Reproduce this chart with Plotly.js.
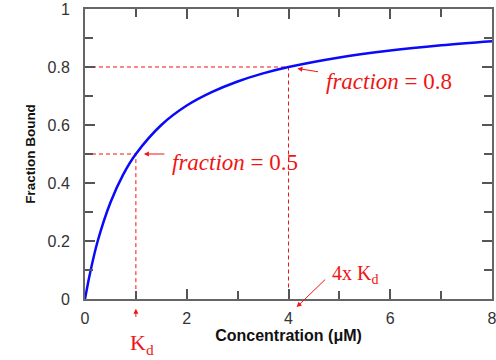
<!DOCTYPE html>
<html><head><meta charset="utf-8">
<script src="https://cdn.plot.ly/plotly-3.0.1.min.js"></script>
<style>html,body{margin:0;padding:0;background:#fff}#c{width:496px;height:360px}</style>
</head><body><div id="c"></div>
<script>
// Binding curve
const conc = [0, 0.1, 0.25, 0.5, 0.75, 1, 1.5, 2, 2.5, 3, 3.5, 4, 5, 6, 7, 8];
const fracBound = [0, 0.09, 0.2, 0.333, 0.429, 0.5, 0.6, 0.667, 0.714, 0.75, 0.778, 0.8, 0.833, 0.857, 0.875, 0.889];
// Reference points (Kd and 4x Kd)
const guideX = [1, 4];
const guideY = [0.5, 0.8];
const xTicks = [0, 2, 4, 6, 8];
const yTicks = [0, 0.2, 0.4, 0.6, 0.8, 1];

const red = 'rgb(240,20,20)';
const traces = [];
guideX.forEach((gx, i) => {
  traces.push({x: [0, gx, gx], y: [guideY[i], guideY[i], 0], mode: 'lines',
    line: {color: red, width: 1, dash: '4px,3px'}, hoverinfo: 'skip', showlegend: false});
});
traces.push({x: conc, y: fracBound, mode: 'lines', line: {color: 'rgb(10,10,250)', width: 2.5, shape: 'spline'}, showlegend: false});

const serif = {family: 'Liberation Serif, Times New Roman, serif', size: 23, color: red};
const axCommon = {
  showline: true, mirror: 'allticks', linecolor: '#666', linewidth: 2,
  ticks: 'inside', ticklen: 10, tickwidth: 2, tickcolor: '#555',
  showgrid: false, zeroline: false, ticklabeloverflow: 'allow',
  tickfont: {family: 'Liberation Sans, Arial, sans-serif', size: 16, color: '#333'},
  minor: {ticks: 'inside', ticklen: 8, tickwidth: 2, tickcolor: '#555'}
};
const arrow = {showarrow: true, arrowcolor: red, arrowwidth: 1, arrowhead: 2, arrowsize: 1,
  text: ' ', font: {size: 1, color: 'rgba(0,0,0,0)'}};
const layout = {
  width: 496, height: 360,
  margin: {l: 85, r: 4, t: 9, b: 61},
  paper_bgcolor: '#fff', plot_bgcolor: '#fff',
  xaxis: Object.assign({}, axCommon, {range: [0, 8], tickvals: xTicks, minor: Object.assign({}, axCommon.minor, {dtick: 1}),
    ticklabelstandoff: 4,
    title: {text: 'Concentration (μM)', font: {family: 'Liberation Sans, Arial, sans-serif', size: 16, color: '#111', weight: 'bold'}, standoff: 2}}),
  yaxis: Object.assign({}, axCommon, {range: [0, 1], tickvals: yTicks, minor: Object.assign({}, axCommon.minor, {dtick: 0.1}),
    ticklabelstandoff: 10,
    title: {text: 'Fraction Bound', font: {family: 'Liberation Sans, Arial, sans-serif', size: 13.5, color: '#111', weight: 'bold'}, standoff: 9}}),
  annotations: [
    Object.assign({}, arrow, {x: guideX[0], y: guideY[0], xref: 'x', yref: 'y', ax: 30, ay: 0, standoff: 8}),
    Object.assign({}, arrow, {x: guideX[1], y: guideY[1], xref: 'x', yref: 'y', ax: 31, ay: 5, standoff: 9}),
    Object.assign({}, arrow, {x: 4.16, y: -0.028, xref: 'x', yref: 'paper', ax: 30, ay: -29, standoff: 0}),
    Object.assign({}, arrow, {x: guideX[0], y: -0.034, xref: 'x', yref: 'paper', ax: 0, ay: 10, standoff: 0}),
    {x: 1.67, y: 0.472, xref: 'x', yref: 'y', xanchor: 'left', yanchor: 'middle', showarrow: false,
      text: '<i>fraction</i> = ' + guideY[0], font: serif},
    {x: 4.7, y: 0.75, xref: 'x', yref: 'y', xanchor: 'left', yanchor: 'middle', showarrow: false,
      text: '<i>fraction</i> = ' + guideY[1], font: serif},
    {x: 5.3, y: 0.083, xref: 'x', yref: 'y', xanchor: 'center', yanchor: 'middle', showarrow: false,
      text: '4x K<sub>d</sub>', font: Object.assign({}, serif, {size: 20})},
    {x: 1.12, y: -0.155, xref: 'x', yref: 'paper', xanchor: 'center', yanchor: 'middle', showarrow: false,
      text: 'K<sub>d</sub>', font: Object.assign({}, serif, {size: 22})}
  ]
};
Plotly.newPlot('c', traces, layout, {displayModeBar: false, staticPlot: true});
</script></body></html>
